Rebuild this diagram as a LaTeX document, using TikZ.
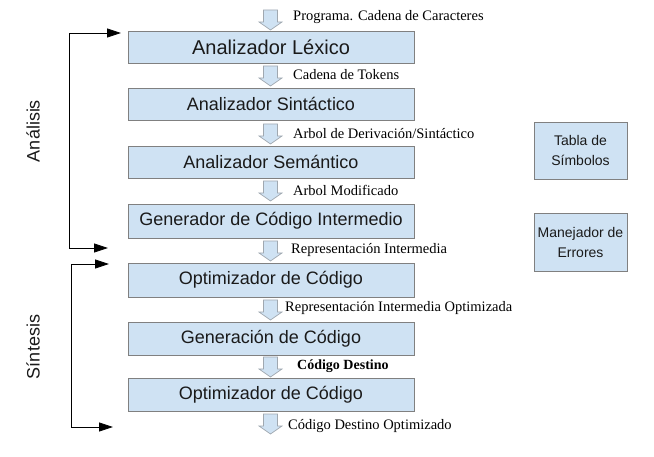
\documentclass[tikz,border=0pt]{standalone}
\usepackage{fontspec}
\setmainfont{Liberation Sans}
\newfontfamily\serifl{Liberation Serif}
\usetikzlibrary{arrows.meta}
\definecolor{boxfill}{HTML}{CFE2F3}
\definecolor{boxline}{HTML}{808080}
\definecolor{arrline}{HTML}{A0A8B0}
\definecolor{txt}{HTML}{1A1A1A}
\tikzset{
  x=1pt, y=-1pt,
  stage/.style={draw=boxline, line width=0.9pt, fill=boxfill, minimum width=286pt, inner sep=0pt, text=txt, font=\fontsize{18}{20}\selectfont},
  side/.style={draw=boxline, line width=0.9pt, fill=boxfill, minimum width=93pt, inner sep=0pt, text=txt, align=center, font=\fontsize{14}{20}\selectfont},
  lbl/.style={anchor=west, inner sep=0pt, font=\serifl\fontsize{14.5}{16}\selectfont},
  phase/.style={rotate=90, inner sep=0pt, font=\fontsize{18}{20}\selectfont, text=txt},
  brk/.style={line width=0.8pt, black, {Triangle[length=14pt,width=9pt]}-{Triangle[length=14pt,width=9pt]}},
  pics/barrow/.style={code={\draw[draw=arrline, fill=boxfill, line width=0.7pt]
    (-7,0) -- (-7,12) -- (-11.5,12) -- (0,20) -- (11.5,12) -- (7,12) -- (7,0) -- cycle;}}
}
\begin{document}
\begin{tikzpicture}
\useasboundingbox (0,0) rectangle (654,457);
% stages
\node[stage, minimum height=32pt, font=\fontsize{20}{22}\selectfont] (b1) at (271,47) {Analizador Léxico};
\node[stage, minimum height=32pt] (b2) at (271,104) {Analizador Sintáctico};
\node[stage, minimum height=32pt] (b3) at (271,162) {Analizador Semántico};
\node[stage, minimum height=34pt] (b4) at (271,221) {Generador de Código Intermedio};
\node[stage, minimum height=34pt] (b5) at (271,280) {Optimizador de Código};
\node[stage, minimum height=33pt] (b6) at (271,338.5) {Generación de Código};
\node[stage, minimum height=33pt] (b7) at (271,394.5) {Optimizador de Código};
% side boxes
\node[side, minimum height=57pt] (ts) at (580.5,150.5) {Tabla de\\Símbolos};
\node[side, minimum height=58pt] (me) at (580.5,242) {Manejador de\\Errores};
% block arrows
\pic at (270.5,10) {barrow};
\pic at (270.5,66) {barrow};
\pic at (270.5,124) {barrow};
\pic at (270.5,181) {barrow};
\pic at (270.5,241) {barrow};
\pic at (270.5,300) {barrow};
\pic at (270.5,357) {barrow};
\pic at (270.5,414) {barrow};
% labels
\node[lbl] (l1) at (293,17) {Programa. Cadena de Caracteres};
\node[lbl] (l2) at (293,75) {Cadena de Tokens};
\node[lbl] (l3) at (293,134) {Arbol de Derivación/Sintáctico};
\node[lbl] (l4) at (293,190) {Arbol Modificado};
\node[lbl] (l5) at (291,250) {Representación Intermedia};
\node[lbl] (l6) at (285,308) {Representación Intermedia Optimizada};
\node[lbl, font=\serifl\bfseries\fontsize{14}{16}\selectfont] (l7) at (297,366) {Código Destino};
\node[lbl] (l8) at (288,426) {Código Destino Optimizado};
% phases
\node[phase] (an) at (33,131) {Análisis};
\node[phase] (si) at (33,347) {Síntesis};
\coordinate (aT) at (69,33);
\coordinate (aTe) at (121,33);
\coordinate (aB) at (69,248);
\coordinate (aBe) at (108,248);
\coordinate (sT) at (71,264);
\coordinate (sTe) at (109,264);
\coordinate (sB) at (71,427);
\coordinate (sBe) at (113,427);
\draw[brk] (aTe) -- (aT) -- (aB) -- (aBe);
\draw[brk] (sTe) -- (sT) -- (sB) -- (sBe);
\end{tikzpicture}
\end{document}
